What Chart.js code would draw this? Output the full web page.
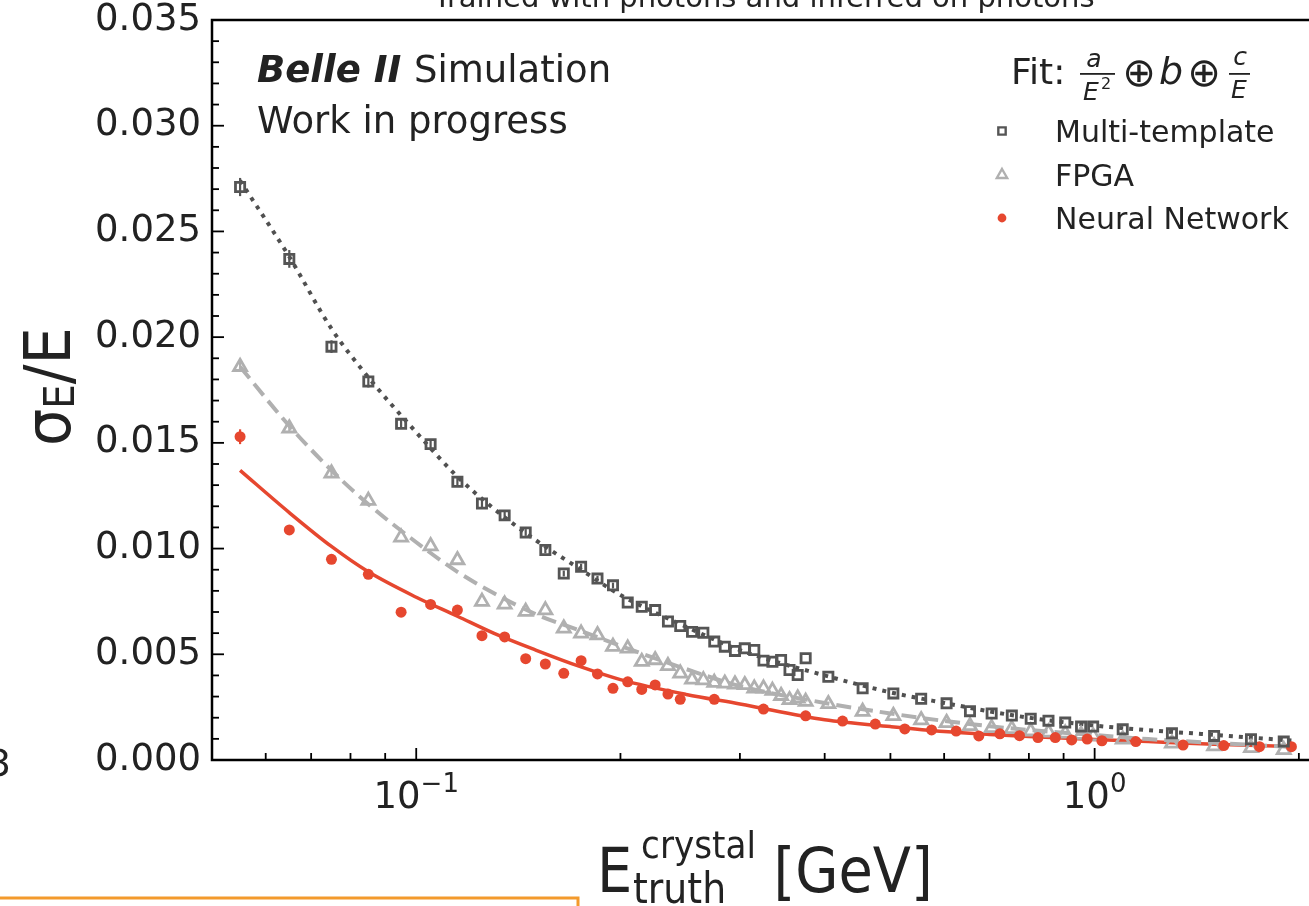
<!DOCTYPE html>
<html>
<head>
<meta charset="utf-8">
<script src="https://cdn.jsdelivr.net/npm/chart.js@4.4.0/dist/chart.umd.min.js"></script>
<style>
  html, body { margin: 0; padding: 0; background: #fff; overflow: hidden; }
  canvas { display: block; }
</style>
</head>
<body>
<canvas id="myChart" width="1309" height="906"></canvas>
<script>
// values
const mtX = [0.055, 0.065, 0.075, 0.085, 0.095, 0.105, 0.115, 0.125, 0.135, 0.145,
  0.155, 0.165, 0.175, 0.185, 0.195, 0.205, 0.215, 0.225, 0.235, 0.245,
  0.255, 0.265, 0.275, 0.285, 0.295, 0.305, 0.315, 0.325, 0.335, 0.345,
  0.355, 0.365, 0.375, 0.405, 0.455, 0.505, 0.555, 0.605, 0.655, 0.705,
  0.755, 0.805, 0.855, 0.905, 0.955, 0.995, 1.1, 1.3, 1.5, 1.7, 1.9];
const mtY = [0.0271, 0.0237, 0.01955, 0.0179, 0.0159, 0.01494, 0.01316, 0.01213, 0.01157, 0.01076,
  0.00993, 0.00882, 0.00914, 0.00858, 0.00826, 0.00745, 0.00725, 0.00709, 0.00655, 0.00634,
  0.00606, 0.00602, 0.0056, 0.00536, 0.00516, 0.00528, 0.0052, 0.0047, 0.00465, 0.00473,
  0.00426, 0.00402, 0.00481, 0.00394, 0.00339, 0.00315, 0.0029, 0.00268, 0.00231, 0.0022,
  0.0021, 0.00195, 0.00186, 0.00177, 0.00158, 0.00158, 0.00145, 0.00126, 0.00114, 0.00098, 0.00087];
const mtErr = [0.00043, 0.00042, 0.0003, 0.00028, 0.00024, 0.00022, 0.0002, 0.00018, 0.00017, 0.00016,
  0.00015, 0.00014, 0.00014, 0.00013, 0.00013];

const fpX = mtX;
const fpY = [0.0186, 0.01569, 0.01356, 0.01227, 0.01053, 0.01012, 0.00946, 0.00749, 0.00736, 0.00702,
  0.00709, 0.00623, 0.00599, 0.00591, 0.00536, 0.00528, 0.00465, 0.00473, 0.00445, 0.0041,
  0.00381, 0.00378, 0.00366, 0.00362, 0.00358, 0.00355, 0.00339, 0.00339, 0.00328, 0.00304,
  0.00284, 0.00292, 0.00276, 0.00265, 0.00229, 0.00209, 0.00189, 0.00176, 0.00161, 0.00152,
  0.00147, 0.00136, 0.00131, 0.00126, 0.0012, 0.00113, 0.00098, 0.00079, 0.00066, 0.00057, 0.00048];
const fpErr = [0.00025, 0.0002, 0.00018];

const nnX = [0.055, 0.065, 0.075, 0.085, 0.095, 0.105, 0.115, 0.125, 0.135, 0.145,
  0.155, 0.165, 0.175, 0.185, 0.195, 0.205, 0.215, 0.225, 0.235, 0.245,
  0.275, 0.325, 0.375, 0.425, 0.475, 0.525, 0.575, 0.625, 0.675, 0.725,
  0.775, 0.825, 0.875, 0.925, 0.975, 1.025, 1.15, 1.35, 1.55, 1.75, 1.95];
const nnY = [0.01529, 0.01088, 0.00949, 0.00878, 0.00699, 0.00736, 0.00709, 0.00588, 0.00582, 0.00479,
  0.00454, 0.0041, 0.0047, 0.00407, 0.00339, 0.0037, 0.00334, 0.00355, 0.00312, 0.00287,
  0.00287, 0.00241, 0.00209, 0.00184, 0.0017, 0.00147, 0.00142, 0.00137, 0.00114, 0.00124,
  0.00115, 0.00106, 0.00106, 0.00095, 0.00099, 0.00091, 0.00087, 0.00071, 0.00068, 0.00063, 0.00063];
const nnErr = [0.00035, 0.0002, 0.00018, 0.00016];

// fitted curves, read at a few energies
const fitX = [0.055, 0.065, 0.075, 0.085, 0.1, 0.115, 0.13, 0.15, 0.175, 0.2,
  0.25, 0.3, 0.4, 0.5, 0.6, 0.7, 0.8, 1.0, 1.2, 1.5, 1.95];
const mtFit = [0.0274, 0.0238, 0.0204, 0.0181, 0.0155, 0.0134, 0.0119, 0.0104, 0.009, 0.0078,
  0.0063, 0.0052, 0.004, 0.0032, 0.0027, 0.0023, 0.002, 0.00163, 0.00141, 0.00119, 0.00092];
const fpFit = [0.0186, 0.0158, 0.0137, 0.0121, 0.0103, 0.0089, 0.0079, 0.0069, 0.0061, 0.0054,
  0.0043, 0.0035, 0.0027, 0.0022, 0.00185, 0.0016, 0.00142, 0.00118, 0.00099, 0.00081, 0.00062];
const nnFit = [0.0137, 0.0117, 0.0101, 0.0089, 0.0077, 0.0068, 0.006, 0.0052, 0.0044, 0.0038,
  0.0031, 0.00265, 0.0019, 0.00158, 0.00135, 0.00121, 0.00111, 0.00097, 0.00087, 0.00075, 0.00064];

const seriesNames = ['Multi-template', 'FPGA', 'Neural Network'];
const yTicks = [0, 0.005, 0.01, 0.015, 0.02, 0.025, 0.03, 0.035];
const xMinorTicks = [0.06, 0.07, 0.08, 0.09, 0.2, 0.3, 0.4, 0.5, 0.6, 0.7, 0.8, 0.9, 2];
const xMajorTicks = [0.1, 1];
const xMajorExponents = ['\u22121', '0'];

const MT_COLOR = '#555555';
const FP_COLOR = '#b0b0b0';
const NN_COLOR = '#e6472f';
const INK = '#222222';
const FONT = 'DejaVu Sans';

function pts(xs, ys) {
    return xs.map(function (x, i) { return { x: x, y: ys[i] }; });
}

function isDecade(v) {
    const l = Math.log10(v);
    return Math.abs(l - Math.round(l)) < 1e-6;
}

const errorBars = {
    id: 'errorBars',
    afterDatasetsDraw: function (chart) {
        const ctx = chart.ctx, xs = chart.scales.x, ys = chart.scales.y;
        ctx.save();
        chart.data.datasets.forEach(function (ds) {
            if (!ds.errors) return;
            ctx.strokeStyle = ds.borderColor;
            ctx.lineWidth = 2.2;
            ds.errors.forEach(function (e, i) {
                const p = ds.data[i];
                const px = xs.getPixelForValue(p.x);
                ctx.beginPath();
                ctx.moveTo(px, ys.getPixelForValue(p.y - e));
                ctx.lineTo(px, ys.getPixelForValue(p.y + e));
                ctx.stroke();
            });
        });
        ctx.restore();
    }
};

const decorations = {
    id: 'decorations',
    afterDraw: function (chart) {
        const ctx = chart.ctx, a = chart.chartArea;
        const xs = chart.scales.x, ys = chart.scales.y;
        ctx.save();

        // frame (the right side is cut off in the picture)
        ctx.strokeStyle = '#000';
        ctx.lineWidth = 2.5;
        ctx.beginPath();
        ctx.moveTo(chart.width + 5, a.top);
        ctx.lineTo(a.left, a.top);
        ctx.lineTo(a.left, a.bottom);
        ctx.lineTo(chart.width + 5, a.bottom);
        ctx.stroke();

        // inward ticks
        ctx.lineWidth = 1.8;
        for (let i = 0; i <= 35; i++) {
            const py = ys.getPixelForValue(i * 0.001);
            const len = (i % 5 === 0) ? 12 : 7;
            ctx.beginPath();
            ctx.moveTo(a.left, py);
            ctx.lineTo(a.left + len, py);
            ctx.stroke();
        }
        xMajorTicks.concat(xMinorTicks).forEach(function (v) {
            const px = xs.getPixelForValue(v);
            const len = isDecade(v) ? 12 : 7;
            ctx.beginPath();
            ctx.moveTo(px, a.bottom);
            ctx.lineTo(px, a.bottom - len);
            ctx.stroke();
        });

        ctx.fillStyle = INK;
        ctx.textAlign = 'left';
        ctx.textBaseline = 'alphabetic';

        // decade labels with raised exponents
        xMajorTicks.forEach(function (v, i) {
            ctx.font = '37px ' + FONT;
            const wb = ctx.measureText('10').width;
            ctx.font = '26px ' + FONT;
            const we = ctx.measureText(xMajorExponents[i]).width;
            const x0 = xs.getPixelForValue(v) - (wb + we) / 2;
            ctx.font = '37px ' + FONT;
            ctx.fillText('10', x0, 808);
            ctx.font = '26px ' + FONT;
            ctx.fillText(xMajorExponents[i], x0 + wb, 792);
        });

        // title, mostly cut off by the top edge
        ctx.font = '29px ' + FONT;
        ctx.textAlign = 'center';
        ctx.fillText('Trained with photons and inferred on photons', 764, 7);
        ctx.textAlign = 'left';

        // experiment label
        ctx.font = 'italic bold 37px ' + FONT;
        ctx.fillText('Belle II', 257, 82);
        const bw = ctx.measureText('Belle II ').width;
        ctx.font = '37px ' + FONT;
        ctx.fillText('Simulation', 257 + bw, 82);
        ctx.fillText('Work in progress', 257, 133);

        // fit formula
        ctx.font = '36px ' + FONT;
        ctx.fillText('Fit:', 1011, 84);
        ctx.font = 'italic 25px ' + FONT;
        ctx.textAlign = 'center';
        ctx.fillText('a', 1094, 67);
        ctx.fillText('E', 1091, 100);
        ctx.font = '16px ' + FONT;
        ctx.fillText('2', 1106, 89);
        ctx.fillRect(1080, 73, 35, 1.8);
        ctx.font = '40px ' + FONT;
        ctx.fillText('\u2295', 1139, 86);
        ctx.font = 'italic 38px ' + FONT;
        ctx.fillText('b', 1171, 84);
        ctx.font = '40px ' + FONT;
        ctx.fillText('\u2295', 1204, 86);
        ctx.font = 'italic 25px ' + FONT;
        ctx.fillText('c', 1240, 65);
        ctx.fillText('E', 1239, 98);
        ctx.fillRect(1229, 73, 21, 1.8);
        ctx.textAlign = 'left';

        // legend
        const rows = [131, 175, 218];
        const pointSets = [3, 4, 5];
        ctx.font = '30px ' + FONT;
        rows.forEach(function (ry, i) {
            const ds = chart.data.datasets[pointSets[i]];
            ctx.save();
            ctx.strokeStyle = ds.borderColor;
            ctx.fillStyle = ds.backgroundColor;
            ctx.lineWidth = ds.borderWidth * 0.85;
            Chart.helpers.drawPoint(ctx, {
                pointStyle: ds.pointStyle,
                radius: ds.pointRadius * 0.8,
                rotation: 0,
                borderWidth: ds.borderWidth
            }, 1002, ry);
            ctx.restore();
            ctx.fillStyle = INK;
            ctx.fillText(seriesNames[i], 1055, ry + 11);
        });

        // axis titles (mathtext-like, slightly narrow)
        ctx.save();
        ctx.translate(597, 892);
        ctx.scale(0.9, 1);
        ctx.font = '62px ' + FONT;
        ctx.fillText('E', 0, 0);
        ctx.font = '38px ' + FONT;
        ctx.fillText('crystal', 49, -34);
        ctx.font = '42px ' + FONT;
        ctx.fillText('truth', 40, 11);
        ctx.font = '62px ' + FONT;
        ctx.fillText('[GeV]', 196, 0);
        ctx.restore();

        ctx.save();
        ctx.translate(70, 446);
        ctx.rotate(-Math.PI / 2);
        ctx.scale(0.92, 1);
        ctx.font = '64px ' + FONT;
        ctx.fillText('\u03c3', 0, 0);
        let off = ctx.measureText('\u03c3').width;
        ctx.font = '42px ' + FONT;
        ctx.fillText('E', off, 4);
        off += ctx.measureText('E').width;
        ctx.font = '64px ' + FONT;
        ctx.fillText('/E', off, 0);
        ctx.restore();

        // neighbouring figure elements cut by the crop
        ctx.font = '37px ' + FONT;
        ctx.textAlign = 'right';
        ctx.fillText('3', 11, 776);
        ctx.strokeStyle = '#f39a2c';
        ctx.lineWidth = 3;
        ctx.beginPath();
        ctx.moveTo(-2, 898);
        ctx.lineTo(578, 898);
        ctx.lineTo(578, 910);
        ctx.stroke();

        ctx.restore();
    }
};

const ctx = document.getElementById('myChart').getContext('2d');

const config = {
    type: 'scatter',
    data: {
        datasets: [
            {
                label: 'Multi-template fit', data: pts(fitX, mtFit), showLine: true,
                borderColor: '#505050', borderWidth: 4, borderDash: [4, 6], pointRadius: 0,
                cubicInterpolationMode: 'monotone', order: 3
            },
            {
                label: 'FPGA fit', data: pts(fitX, fpFit), showLine: true,
                borderColor: FP_COLOR, borderWidth: 4, borderDash: [15, 7], pointRadius: 0,
                cubicInterpolationMode: 'monotone', order: 3
            },
            {
                label: 'Neural Network fit', data: pts(fitX, nnFit), showLine: true,
                borderColor: NN_COLOR, borderWidth: 3.5, pointRadius: 0,
                cubicInterpolationMode: 'monotone', order: 3
            },
            {
                label: seriesNames[0], data: pts(mtX, mtY), errors: mtErr,
                pointStyle: 'rect', pointRadius: 6.5, borderWidth: 2.8,
                borderColor: MT_COLOR, backgroundColor: 'rgba(255,255,255,0)', order: 1
            },
            {
                label: seriesNames[1], data: pts(fpX, fpY), errors: fpErr,
                pointStyle: 'triangle', pointRadius: 7.5, borderWidth: 2.8,
                borderColor: FP_COLOR, backgroundColor: 'rgba(255,255,255,0)', order: 2
            },
            {
                label: seriesNames[2], data: pts(nnX, nnY), errors: nnErr,
                pointStyle: 'circle', pointRadius: 5.5, borderWidth: 0,
                borderColor: NN_COLOR, backgroundColor: NN_COLOR, order: 1
            }
        ]
    },
    options: {
        responsive: false,
        animation: false,
        layout: { autoPadding: false, padding: { top: 20, right: 0, left: 0, bottom: 0 } },
        plugins: {
            legend: { display: false },
            tooltip: { enabled: false }
        },
        scales: {
            x: {
                type: 'logarithmic',
                min: 0.05,
                max: 2.07,
                afterFit: function (scale) {
                    scale.height = 146;
                    scale.paddingLeft = 0;
                    scale.paddingRight = 0;
                },
                grid: { display: false, drawTicks: false },
                border: { display: false },
                ticks: { display: false }
            },
            y: {
                min: 0,
                max: 0.035,
                afterFit: function (scale) {
                    scale.width = 212;
                    scale.paddingTop = 0;
                    scale.paddingBottom = 0;
                },
                grid: { display: false, drawTicks: false },
                border: { display: false },
                afterBuildTicks: function (scale) {
                    scale.ticks = yTicks.map(function (v) { return { value: v }; });
                },
                ticks: {
                    padding: 11,
                    color: INK,
                    font: { family: FONT, size: 37, lineHeight: 1 },
                    callback: function (v) { return v.toFixed(3); }
                }
            }
        }
    },
    plugins: [errorBars, decorations]
};

new Chart(ctx, config);
</script>
</body>
</html>
